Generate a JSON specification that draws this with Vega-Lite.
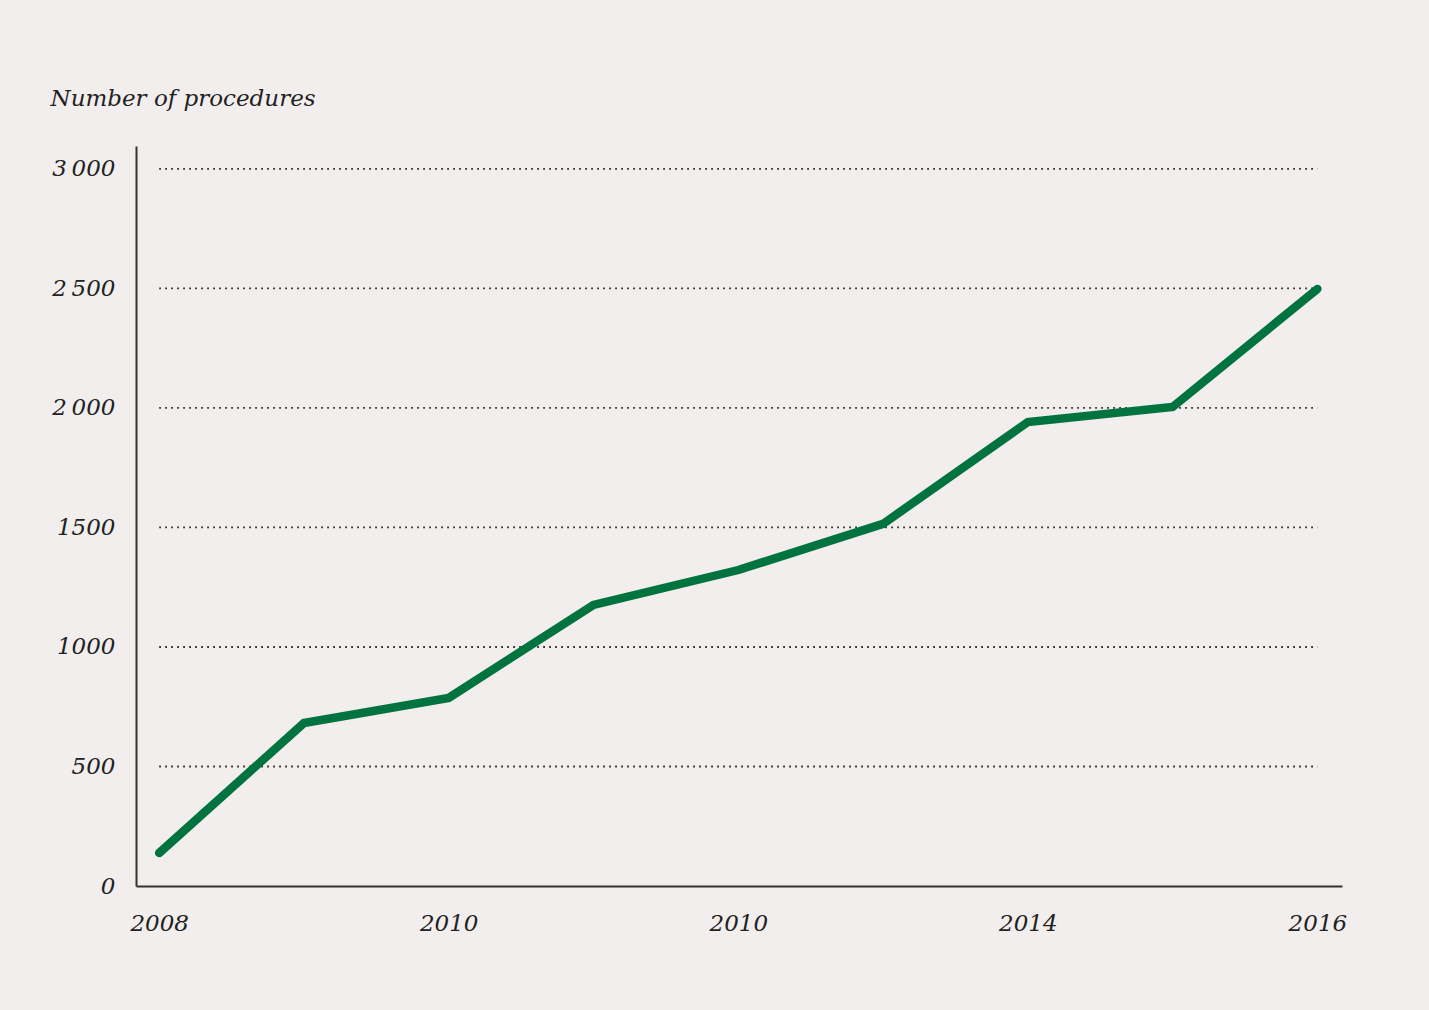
{
  "$schema": "https://vega.github.io/schema/vega-lite/v6.json",
  "width": 1206,
  "height": 740,
  "autosize": {"type": "none"},
  "padding": {"left": 136, "top": 146, "right": 87, "bottom": 124},
  "background": "#f1eeed",
  "view": {"stroke": null},
  "config": {
    "font": "DejaVu Serif",
    "axis": {
      "labelFont": "DejaVu Serif",
      "labelFontStyle": "italic",
      "labelFontSize": 23,
      "labelColor": "#222222",
      "titleFont": "DejaVu Serif",
      "titleFontStyle": "italic",
      "titleFontWeight": "normal",
      "titleFontSize": 23,
      "titleColor": "#222222",
      "domainColor": "#333333",
      "domainWidth": 2,
      "ticks": false,
      "grid": false
    }
  },
  "layer": [
    {
      "data": {
        "values": [
          {"level": 500},
          {"level": 1000},
          {"level": 1500},
          {"level": 2000},
          {"level": 2500},
          {"level": 3000}
        ]
      },
      "mark": {"type": "rule", "color": "#333333", "strokeWidth": 1.8, "strokeDash": [1.8, 4.2]},
      "encoding": {
        "x": {"datum": 2008, "type": "quantitative"},
        "x2": {"datum": 2016},
        "y": {"field": "level", "type": "quantitative"}
      }
    },
    {
      "data": {
        "values": [
          {"year": 2008, "procedures": 138},
          {"year": 2009, "procedures": 682},
          {"year": 2010, "procedures": 787},
          {"year": 2011, "procedures": 1176},
          {"year": 2012, "procedures": 1322},
          {"year": 2013, "procedures": 1515},
          {"year": 2014, "procedures": 1941},
          {"year": 2015, "procedures": 2004},
          {"year": 2016, "procedures": 2498}
        ]
      },
      "mark": {"type": "line", "color": "#00733e", "strokeWidth": 8.5, "strokeCap": "round", "strokeJoin": "miter"},
      "encoding": {
        "x": {
          "field": "year",
          "type": "quantitative",
          "scale": {"domain": [2007.84, 2016.17], "nice": false, "zero": false},
          "axis": {
            "title": null,
            "values": [2008, 2010, 2012, 2014, 2016],
            "labelExpr": "datum.value == 2012 ? '2010' : datum.value",
            "labelPadding": 26,
            "labelBaseline": "top"
          }
        },
        "y": {
          "field": "procedures",
          "type": "quantitative",
          "scale": {"domain": [0, 3096], "nice": false},
          "axis": {
            "title": "Number of procedures",
            "titleAngle": 0,
            "titleAlign": "left",
            "titleBaseline": "alphabetic",
            "titleX": -86,
            "titleY": -41,
            "values": [0, 500, 1000, 1500, 2000, 2500, 3000],
            "labelExpr": "datum.value >= 2000 ? floor(datum.value / 1000) + '\u2009' + substring(datum.value + '', 1) : datum.value + ''",
            "labelPadding": 21
          }
        }
      }
    }
  ]
}
